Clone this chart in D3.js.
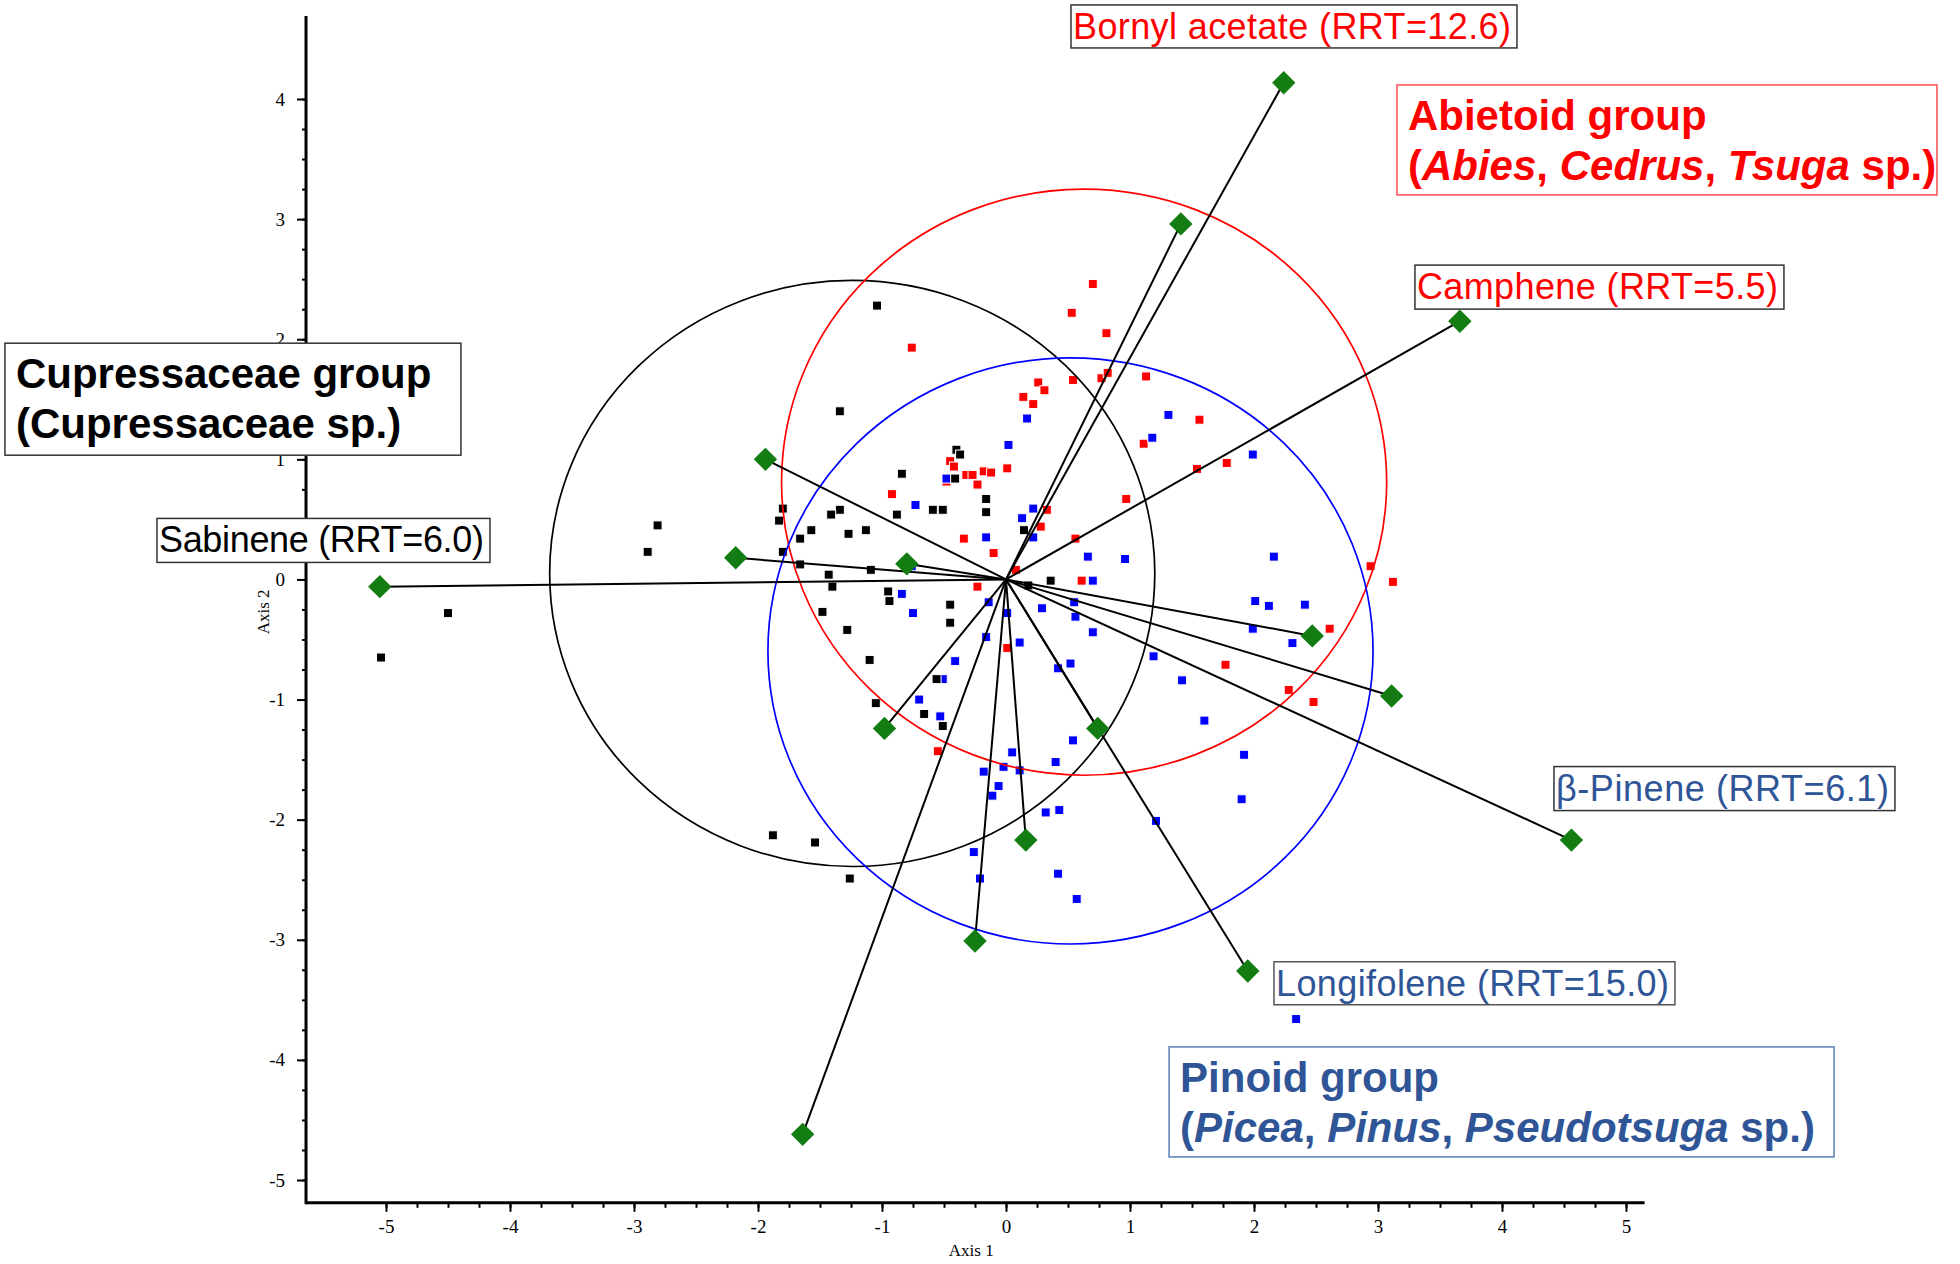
<!DOCTYPE html>
<html>
<head>
<meta charset="utf-8">
<script src="https://cdnjs.cloudflare.com/ajax/libs/d3/7.8.5/d3.min.js"></script>
<style>
    html, body { margin: 0; padding: 0; background: #ffffff; }
    text { white-space: pre; }
</style>
</head>
<body>
<svg id="chart"></svg>
<script>
//sample scores [Axis 1, Axis 2] per group
var cupressaceaePts = [
    [-1.04, 2.28], [-1.34, 1.40], [-0.40, 1.08], [-0.37, 1.04], [-0.84, 0.88], [-0.41, 0.84],
    [-0.16, 0.67], [-0.16, 0.56], [-0.59, 0.58], [-0.51, 0.58], [-0.88, 0.54], [-1.80, 0.59],
    [-1.83, 0.49], [-1.34, 0.58], [-1.41, 0.54], [-1.57, 0.41], [-1.66, 0.34], [-1.27, 0.38],
    [-1.13, 0.41], [-1.80, 0.23], [-1.66, 0.125], [-1.09, 0.08], [-1.43, 0.04], [-1.40, -0.06],
    [-0.95, -0.10], [-0.94, -0.18], [-1.48, -0.27], [-1.28, -0.42], [-0.45, -0.21], [-0.45, -0.36],
    [-1.10, -0.67], [-1.05, -1.03], [-0.66, -1.12], [-0.51, -1.22], [-2.81, 0.45], [-2.89, 0.23],
    [0.145, 0.41], [0.36, -0.01], [0.18, -0.05], [-0.56, -0.83], [-4.50, -0.28], [-5.04, -0.65],
    [-1.88, -2.13], [-1.54, -2.19], [-1.26, -2.49]
];

var abietoidPts = [
    [-0.76, 1.93], [0.26, 1.64], [0.31, 1.575], [0.14, 1.52], [0.22, 1.46], [0.01, 0.925],
    [-0.45, 0.985], [-0.42, 0.94], [-0.32, 0.87], [-0.27, 0.87], [-0.18, 0.90], [-0.12, 0.89],
    [-0.23, 0.79], [-0.48, 0.815], [-0.92, 0.71], [0.33, 0.58], [0.28, 0.44], [-0.34, 0.34],
    [-0.10, 0.22], [0.08, 0.08], [-0.23, -0.06], [0.01, -0.57], [0.70, 2.46], [0.53, 2.22],
    [0.81, 2.05], [0.77, 1.675], [0.82, 1.72], [0.54, 1.66], [1.13, 1.69], [1.56, 1.33],
    [1.11, 1.13], [1.78, 0.97], [1.54, 0.92], [0.97, 0.67], [0.56, 0.34], [0.61, -0.01],
    [2.94, 0.11], [3.12, -0.02], [2.61, -0.41], [1.77, -0.71], [2.28, -0.92], [2.48, -1.02],
    [-0.55, -1.43]
];

var pinoidPts = [
    [0.17, 1.34], [0.02, 1.12], [-0.48, 0.84], [-0.73, 0.62], [0.22, 0.59], [0.13, 0.51],
    [0.22, 0.35], [-0.16, 0.35], [-0.84, -0.12], [-0.75, -0.28], [-0.14, -0.19], [0.01, -0.28],
    [0.29, -0.24], [-0.16, -0.48], [0.11, -0.525], [-0.41, -0.68], [-0.51, -0.83], [-0.70, -1.00],
    [-0.53, -1.14], [0.42, -0.74], [-0.76, 0.11], [1.31, 1.37], [1.18, 1.18], [1.99, 1.04],
    [0.66, 0.19], [0.96, 0.17], [2.16, 0.19], [0.70, -0.01], [0.55, -0.19], [0.56, -0.31],
    [0.70, -0.44], [2.01, -0.18], [2.12, -0.22], [2.41, -0.21], [1.99, -0.41], [2.31, -0.53],
    [1.19, -0.64], [0.52, -0.70], [1.42, -0.84], [0.54, -1.34], [0.05, -1.44], [0.40, -1.52],
    [-0.18, -1.60], [-0.02, -1.56], [0.11, -1.59], [-0.06, -1.72], [-0.11, -1.80], [0.32, -1.94],
    [0.43, -1.92], [1.60, -1.175], [1.92, -1.46], [1.90, -1.83], [1.21, -2.01], [-0.26, -2.27],
    [-0.21, -2.49], [0.42, -2.45], [0.57, -2.66], [2.34, -3.66]
];

//loading vectors (compound end points)
var loadingX = [2.24, 1.41, 3.66, -1.94, -2.18, -0.80, -5.05, 2.47, 3.11, 4.56, 0.74, -0.98, 0.16, -0.25, 1.95, -1.64];
var loadingY = [4.135, 2.96, 2.15, 1.00, 0.18, 0.13, -0.06, -0.47, -0.97, -2.17, -1.24, -1.24, -2.17, -3.01, -3.26, -4.62];

//group circles (centre, radius in axis units)
var circleCx = [-1.24, 0.63, 0.52];
var circleCy = [0.05, 0.81, -0.595];
var circleR = [2.44, 2.44, 2.44];

//tick labels
var xTicks = [-5, -4, -3, -2, -1, 0, 1, 2, 3, 4, 5];
var yTicks = [-5, -4, -3, -2, -1, 0, 1, 2, 3, 4];

//configurations
var width = 1960;
var height = 1264;
var sq = 9;          //square marker size (incl. white edge)
var dHalf = 11.7;    //diamond half diagonal
var groupColors = ["#000000", "#ff0000", "#0000ff"];
var labelBlue = "#2f5597";

var x = d3.scaleLinear().domain([-5, 5]).range([386, 1626]);
var y = d3.scaleLinear().domain([-5, 4]).range([1180, 99]);

var svg = d3.select("#chart").attr("width", width).attr("height", height).style("background", "white");

//axes ---------------------------------------------------------
var xAxisY = y(-5.19);
var yAxisX = x(-5.645);

svg.append("g").attr("transform", `translate(0,${xAxisY})`)
    .call(d3.axisBottom(x).tickValues(d3.range(-5, 5.01, 0.25)).tickSize(5).tickFormat(""))
    .call(g => g.select(".domain").remove())
    .call(g => g.selectAll("line").attr("stroke-width", 2));

svg.append("g").attr("transform", `translate(0,${xAxisY})`)
    .call(d3.axisBottom(x).tickValues(xTicks).tickSize(9).tickPadding(8).tickFormat(d => String(d)))
    .call(g => g.select(".domain").remove())
    .call(g => g.selectAll("line").attr("stroke-width", 2))
    .call(g => g.selectAll("text").attr("font-family", "'Liberation Serif', 'Times New Roman', serif")
        .attr("font-size", 19).attr("fill", "#000"));

svg.append("g").attr("transform", `translate(${yAxisX},0)`)
    .call(d3.axisLeft(y).tickValues(d3.range(-5, 4.01, 0.25)).tickSize(4).tickFormat(""))
    .call(g => g.select(".domain").remove())
    .call(g => g.selectAll("line").attr("stroke-width", 2));

svg.append("g").attr("transform", `translate(${yAxisX},0)`)
    .call(d3.axisLeft(y).tickValues(yTicks).tickSize(9).tickPadding(12).tickFormat(d => String(d)))
    .call(g => g.select(".domain").remove())
    .call(g => g.selectAll("line").attr("stroke-width", 2))
    .call(g => g.selectAll("text").attr("font-family", "'Liberation Serif', 'Times New Roman', serif")
        .attr("font-size", 19).attr("fill", "#000"));

svg.append("line").attr("x1", yAxisX).attr("x2", x(5.15)).attr("y1", xAxisY).attr("y2", xAxisY)
    .style("stroke", "#000").style("stroke-width", 3);
svg.append("line").attr("x1", yAxisX).attr("x2", yAxisX).attr("y1", y(4.69)).attr("y2", xAxisY + 1.5)
    .style("stroke", "#000").style("stroke-width", 3);

svg.append("text").attr("x", x(-0.28)).attr("y", 1256).attr("text-anchor", "middle")
    .attr("font-family", "'Liberation Serif', serif").attr("font-size", 17).text("Axis 1");
svg.append("text").attr("transform", `translate(269,${y(-0.27)}) rotate(-90)`).attr("text-anchor", "middle")
    .attr("font-family", "'Liberation Serif', serif").attr("font-size", 17).text("Axis 2");

//sample squares ----------------------------------------------
var groups = [abietoidPts, pinoidPts, cupressaceaePts];
var groupColorOrder = [groupColors[1], groupColors[2], groupColors[0]];

groups.forEach(function (pts, gi) {
    svg.append("g").selectAll("rect").data(pts).enter().append("rect")
        .attr("x", d => x(d[0]) - sq / 2).attr("y", d => y(d[1]) - sq / 2)
        .attr("width", sq).attr("height", sq)
        .style("fill", groupColorOrder[gi]).style("stroke", "#fff").style("stroke-width", 1);
});

//group circles
svg.append("g").selectAll("ellipse").data(circleCx).enter().append("ellipse")
    .attr("cx", (d, i) => x(circleCx[i])).attr("cy", (d, i) => y(circleCy[i]))
    .attr("rx", (d, i) => x(circleR[i]) - x(0)).attr("ry", (d, i) => y(0) - y(circleR[i]))
    .style("fill", "none").style("stroke", (d, i) => groupColors[i]).style("stroke-width", 1.7);

//loading vectors
svg.append("g").selectAll("line").data(loadingX).enter().append("line")
    .attr("x1", x(0)).attr("y1", y(0))
    .attr("x2", (d, i) => x(loadingX[i])).attr("y2", (d, i) => y(loadingY[i]))
    .style("stroke", "#000").style("stroke-width", 2);

svg.append("g").selectAll("path").data(loadingX).enter().append("path")
    .attr("d", (d, i) => getDiamond(x(loadingX[i]), y(loadingY[i])))
    .style("fill", "#137d13");

function getDiamond(cx, cy) {
    var points = `M${cx},${cy - dHalf}`;
    points += ` L${cx + dHalf},${cy}`;
    points += ` L${cx},${cy + dHalf}`;
    points += ` L${cx - dHalf},${cy} Z`;
    return points;
}

//label boxes (top-left corner in axis units, size in px)
var italic = "italic";
var labelBoxes = [
    { ax: 0.524, ay: 4.783, w: 446, h: 43, color: "#ff0000", border: "#333", bold: false,
      lines: [[["Bornyl acetate (RRT=12.6)"]]] },
    { ax: 3.153, ay: 4.117, w: 540, h: 110, color: "#ff0000", border: "#ff4d4d", bold: true,
      lines: [[["Abietoid group"]], [["("], ["Abies", italic], [", "], ["Cedrus", italic], [", "], ["Tsuga", italic], [" sp.)"]]] },
    { ax: 3.298, ay: 2.617, w: 369, h: 44, color: "#ff0000", border: "#333", bold: false,
      lines: [[["Camphene (RRT=5.5)"]]] },
    { ax: -8.073, ay: 1.967, w: 456, h: 112, color: "#000000", border: "#333", bold: true,
      lines: [[["Cupressaceae group"]], [["(Cupressaceae sp.)"]]] },
    { ax: -6.847, ay: 0.508, w: 333, h: 44, color: "#000000", border: "#333", bold: false,
      lines: [[["Sabinene (RRT=6.0)"]]] },
    { ax: 4.419, ay: -1.558, w: 341, h: 44, color: labelBlue, border: "#333", bold: false,
      lines: [[["\u03b2-Pinene (RRT=6.1)"]]] },
    { ax: 2.161, ay: -3.183, w: 401, h: 43, color: labelBlue, border: "#555", bold: false,
      lines: [[["Longifolene (RRT=15.0)"]]] },
    { ax: 1.315, ay: -3.892, w: 665, h: 110, color: labelBlue, border: "#5b7fb5", bold: true,
      lines: [[["Pinoid group"]], [["("], ["Picea", italic], [", "], ["Pinus", italic], [", "], ["Pseudotsuga", italic], [" sp.)"]]] }
];

labelBoxes.forEach(function (b) {
    var bx = x(b.ax), by = y(b.ay);
    var g = svg.append("g");
    g.append("rect").attr("x", bx).attr("y", by).attr("width", b.w).attr("height", b.h)
        .style("fill", "#fff").style("stroke", b.border).style("stroke-width", 1.5);

    var fs = b.bold ? 42 : 36;
    b.lines.forEach(function (spans, li) {
        var t = g.append("text")
            .attr("x", bx + (b.bold ? 11 : 2))
            .attr("y", by + (b.bold ? 45 + li * 50 : 34))
            .attr("font-family", "'Liberation Sans', Arial, sans-serif")
            .attr("font-size", fs).attr("font-weight", b.bold ? "bold" : "normal")
            .attr("fill", b.color);
        //single-line compound labels fill their box like the original
        if (!b.bold) {
            t.attr("textLength", b.w - 8).attr("lengthAdjust", "spacing");
        }
        spans.forEach(function (s) {
            t.append("tspan").attr("font-style", s[1] || "normal").text(s[0]);
        });
    });
});
</script>
</body>
</html>
